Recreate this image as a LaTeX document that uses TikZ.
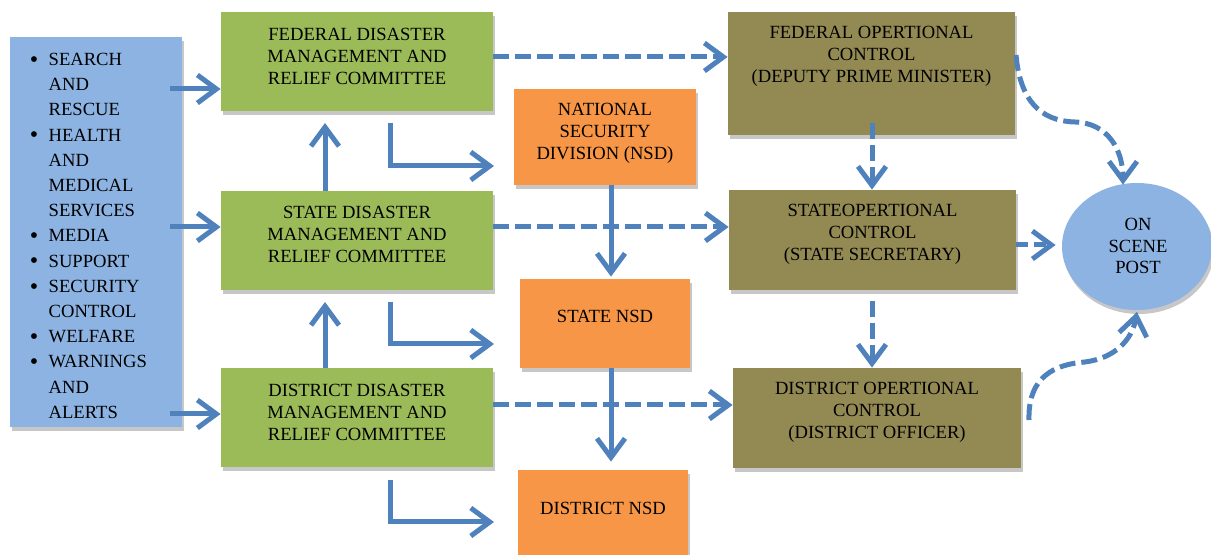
\documentclass[tikz,border=0pt]{standalone}
\usepackage{fontspec}
\setmainfont{Liberation Serif}
\usetikzlibrary{arrows.meta,shadows,shapes.geometric}
\definecolor{boxblue}{HTML}{8DB3E2}
\definecolor{boxgreen}{HTML}{9BBB59}
\definecolor{boxorange}{HTML}{F79646}
\definecolor{boxolive}{HTML}{938953}
\definecolor{arrowblue}{HTML}{4F81BD}
\tikzset{
  shad/.style={drop shadow={shadow xshift=1pt,shadow yshift=-2pt,fill=black!22,opacity=1}},
  box/.style={rectangle,shad,inner sep=0pt},
  bluebox/.style={box,fill=boxblue},
  greenbox/.style={box,fill=boxgreen,minimum width=136pt,minimum height=49.5pt},
  orangebox/.style={box,fill=boxorange},
  olivebox/.style={box,fill=boxolive},
  txt/.style={align=center,inner sep=0pt,font=\fontsize{9.3}{10.9}\selectfont},
  solidarrow/.style={draw=arrowblue,line width=2.5pt,-{Straight Barb[length=9.5pt,width=14pt]}},
  dasharrow/.style={solidarrow,dash pattern=on 8pt off 3pt},
}
\newcommand{\bigbul}{\raisebox{-0.9pt}{\fontsize{12}{12.6}\selectfont\textbullet}}
\begin{document}
\begin{tikzpicture}[x=0.5pt,y=-0.5pt]
\useasboundingbox (0,0) rectangle (1211,555);
% left list box
\node[bluebox,minimum width=86pt,minimum height=195pt] (lb) at (96,232) {};
\node[anchor=north west,inner sep=0pt,font=\fontsize{9.3}{12.6}\selectfont] (lbt) at (29.5,47.4)
 {\begin{tabular}{@{}l@{\hspace{5.2pt}}l@{}}
 \bigbul & SEARCH\\ & AND\\ & RESCUE\\
 \bigbul & HEALTH\\ & AND\\ & MEDICAL\\ & SERVICES\\
 \bigbul & MEDIA\\
 \bigbul & SUPPORT\\
 \bigbul & SECURITY\\ & CONTROL\\
 \bigbul & WELFARE\\
 \bigbul & WARNINGS\\ & AND\\ & ALERTS
 \end{tabular}};
% green boxes
\node[greenbox] (fed) at (357,61.5) {};
\node[txt] (fedt) at (357,56.5) {FEDERAL DISASTER\\MANAGEMENT AND\\RELIEF COMMITTEE};
\node[greenbox] (sta) at (357,241) {};
\node[txt] (stat) at (357,234.5) {STATE DISASTER\\MANAGEMENT AND\\RELIEF COMMITTEE};
\node[greenbox] (dis) at (357,418) {};
\node[txt] (dist) at (357,412.5) {DISTRICT DISASTER\\MANAGEMENT AND\\RELIEF COMMITTEE};
% orange boxes
\node[orangebox,minimum width=91pt,minimum height=48pt] (nsd) at (605,137) {};
\node[txt] (nsdt) at (605,133.5) {NATIONAL\\SECURITY\\DIVISION (NSD)};
\node[orangebox,minimum width=85pt,minimum height=44.5pt] (snsd) at (605,323.5) {};
\node[txt] (snsdt) at (605,316.5) {STATE NSD};
\node[orangebox,minimum width=85pt,minimum height=43pt] (dnsd) at (603,513) {};
\node[txt] (dnsdt) at (603,508.5) {DISTRICT NSD};
% olive boxes
\node[olivebox,minimum width=143.5pt,minimum height=61.5pt] (fop) at (871.5,73.5) {};
\node[txt] (fopt) at (871.5,56.5) {FEDERAL OPERTIONAL\\CONTROL\\(DEPUTY PRIME MINISTER)};
\node[olivebox,minimum width=143.5pt,minimum height=50pt] (sop) at (872.5,240) {};
\node[txt] (sopt) at (872.5,234.5) {STATEOPERTIONAL\\CONTROL\\(STATE SECRETARY)};
\node[olivebox,minimum width=144pt,minimum height=50pt] (dop) at (877,418) {};
\node[txt] (dopt) at (877,412.5) {DISTRICT OPERTIONAL\\CONTROL\\(DISTRICT OFFICER)};
% ellipse
\node[ellipse,shad,fill=boxblue,minimum width=75pt,minimum height=63.5pt,inner sep=0pt] (osp) at (1137,246.5) {};
\node[txt] (ospt) at (1138,246) {ON\\SCENE\\POST};
% coordinates
\coordinate (a1) at (170,89);
\coordinate (a2) at (170,227);
\coordinate (a3) at (170,414);
\coordinate (u1) at (325,123);
\coordinate (u2) at (325,302);
\coordinate (e1) at (390,123);
\coordinate (e1t) at (494,166);
\coordinate (e2) at (390,302);
\coordinate (e2t) at (494,344);
\coordinate (e3) at (390,480);
\coordinate (e3t) at (494,522);
\coordinate (n1) at (611,185);
\coordinate (n2) at (611,368);
\coordinate (h1) at (493,57);
\coordinate (h2) at (493,227);
\coordinate (h3) at (493,405);
\coordinate (v1) at (872,123);
\coordinate (v2) at (872,301);
\coordinate (s1) at (1016,245);
\coordinate (c1) at (1016,55);
\coordinate (c3) at (1029,420);
% solid arrows
\draw[solidarrow] (a1) -- (a1 -| fed.west);
\draw[solidarrow] (a2) -- (a2 -| sta.west);
\draw[solidarrow] (a3) -- (a3 -| dis.west);
\draw[solidarrow] (u1 |- sta.north) -- (u1);
\draw[solidarrow] (u2 |- dis.north) -- (u2);
\draw[solidarrow] (e1) |- (e1t);
\draw[solidarrow] (e2) |- (e2t);
\draw[solidarrow] (e3) |- (e3t);
\draw[solidarrow] (n1) -- ([yshift=1pt]n1 |- snsd.north);
\draw[solidarrow] (n2) -- ([yshift=4pt]n2 |- dnsd.north);
% dashed arrows
\draw[dasharrow] (h1) -- (h1 -| fop.west);
\draw[dasharrow] (h2) -- (h2 -| sop.west);
\draw[dasharrow] (h3) -- (h3 -| dop.west);
\draw[dasharrow] (v1) -- (v1 |- sop.north);
\draw[dasharrow] (v2) -- (v2 |- dop.north);
\draw[dasharrow,dash pattern=on 6pt off 3pt] (s1) -- ([xshift=-3pt]s1 -| osp.west);
\draw[dasharrow] (c1) .. controls (1020,100) and (1040,121) .. (1075,122)
  .. controls (1108,123) and (1123,150) .. ([yshift=-1pt]osp.north -| 1123,0);
\draw[dasharrow] (c3) .. controls (1028,385) and (1045,365) .. (1085,362)
  .. controls (1115,358) and (1132,340) .. (1137,312);
\end{tikzpicture}
\end{document}
